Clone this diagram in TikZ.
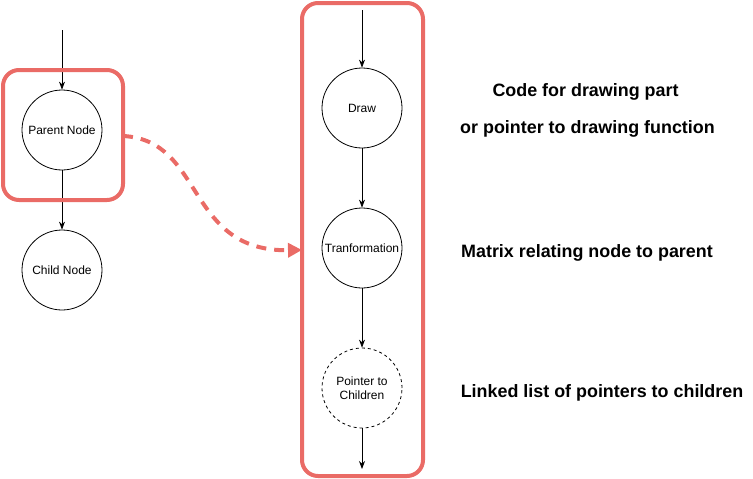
\documentclass[tikz,border=0pt]{standalone}
\usepackage{fontspec}
\setmainfont{Liberation Sans}
\usetikzlibrary{arrows.meta}
\definecolor{redline}{HTML}{EA6B66}
\begin{document}
\begin{tikzpicture}[x=1pt,y=-1pt,
  circ/.style={draw=black,line width=0.8pt,circle,minimum size=80pt,inner sep=0pt,align=center,font=\fontsize{12}{14}\selectfont},
  dcirc/.style={circ,dash pattern=on 3pt off 3pt},
  redbox/.style={draw=redline,line width=4pt,rounded corners=16pt},
  conn/.style={line width=0.8pt,-{Stealth[length=8pt,width=6pt]}},
  lbl/.style={font=\fontsize{17.9}{21}\selectfont\bfseries,anchor=base}
]
\useasboundingbox (0,0) rectangle (753,479);
% left
\node[circ] (parent) at (62,130) {Parent Node};
\node[circ] (child) at (62,270) {Child Node};
\coordinate (ltop) at (62,30);
\draw[conn] (ltop) -- (parent.north);
\draw[conn] (parent.south) -- (child.north);
\draw[redbox] (3,70) rectangle (123,200);
\coordinate (pbox) at (123,136);
% right container
\draw[redbox] (302,3) rectangle (423,476);
\coordinate (cleft) at (302,250);
\node[circ] (draw) at (362,108) {Draw};
\node[circ] (trans) at (362,248) {Tranformation};
\node[dcirc] (ptr) at (362,388) {Pointer to\\Children};
\coordinate (rtop) at (362,10);
\coordinate (rbot) at (362,469);
\draw[conn] (rtop) -- (draw.north);
\draw[conn] (draw.south) -- (trans.north);
\draw[conn] (trans.south) -- (ptr.north);
\draw[conn] (ptr.south) -- (rbot);
% dashed curved arrow
\draw[redline,line width=4pt,dash pattern=on 10pt off 8pt,-{Triangle[length=14pt,width=14pt]}]
  (pbox) .. controls (205,140) and (185,252) .. (cleft);
% labels
\node[lbl] (t1) at (585.5,96) {Code for drawing part};
\node[lbl] (t2) at (587.5,133) {or pointer to drawing function};
\node[lbl] (t3) at (587,257) {Matrix relating node to parent};
\node[lbl] (t4) at (602,397) {Linked list of pointers to children};
\end{tikzpicture}
\end{document}
